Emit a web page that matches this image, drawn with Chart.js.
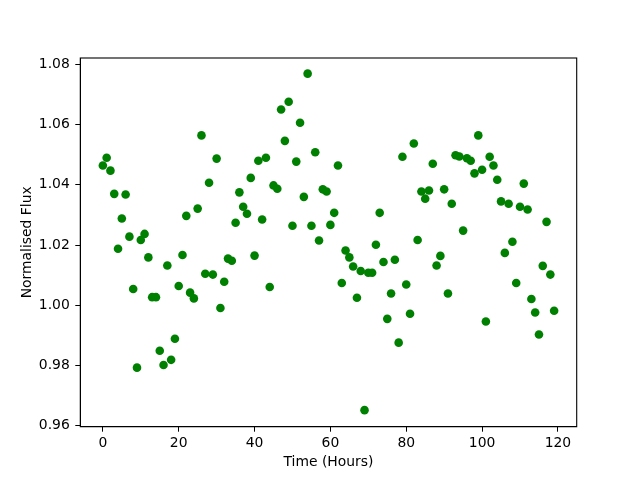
<!DOCTYPE html>
<html>
<head>
<meta charset="utf-8">
<script src="https://cdn.jsdelivr.net/npm/chart.js@4"></script>
<style>
    html, body { margin: 0; padding: 0; background: #fff; }
    canvas { display: block; }
</style>
</head>
<body>
<canvas id="fluxChart" width="640" height="480"></canvas>
<script>
// hours since start of observation
const hours = [];
for (let h = 0; h < 120; h++) hours.push(h);

// normalised flux
const flux = [
    1.0464, 1.0490, 1.0447, 1.0370, 1.0188, 1.0288, 1.0368, 1.0228, 1.0054, 0.9793,
    1.0217, 1.0237, 1.0159, 1.0027, 1.0027, 0.9849, 0.9802, 1.0132, 0.9819, 0.9889,
    1.0064, 1.0167, 1.0297, 1.0042, 1.0023, 1.0321, 1.0564, 1.0105, 1.0407, 1.0102,
    1.0487, 0.9991, 1.0078, 1.0155, 1.0148, 1.0274, 1.0375, 1.0327, 1.0304, 1.0423,
    1.0165, 1.0480, 1.0285, 1.0490, 1.0061, 1.0398, 1.0387, 1.0650, 1.0546, 1.0676,
    1.0264, 1.0477, 1.0606, 1.0360, 1.0769, 1.0264, 1.0508, 1.0215, 1.0385, 1.0378,
    1.0267, 1.0307, 1.0464, 1.0074, 1.0182, 1.0159, 1.0129, 1.0025, 1.0114, 0.9652,
    1.0108, 1.0108, 1.0201, 1.0307, 1.0144, 0.9955, 1.0039, 1.0151, 0.9876, 1.0493,
    1.0069, 0.9972, 1.0537, 1.0217, 1.0378, 1.0354, 1.0381, 1.0470, 1.0132, 1.0164,
    1.0385, 1.0039, 1.0337, 1.0498, 1.0494, 1.0248, 1.0488, 1.0480, 1.0438, 1.0564,
    1.0450, 0.9946, 1.0493, 1.0464, 1.0417, 1.0345, 1.0174, 1.0337, 1.0211, 1.0074,
    1.0327, 1.0404, 1.0318, 1.0021, 0.9976, 0.9903, 1.0131, 1.0277, 1.0102, 0.9982
];

const xTicks = [0, 20, 40, 60, 80, 100, 120];
const yTicks = [0.96, 0.98, 1.00, 1.02, 1.04, 1.06, 1.08];

const points = hours.map((h, i) => ({ x: h, y: flux[i] }));

const font = { family: "'DejaVu Sans', sans-serif", size: 13.9 };

// matplotlib style box round the axes
const framePlugin = {
    id: "frame",
    afterDraw(chart) {
        const a = chart.chartArea;
        const ctx = chart.ctx;
        ctx.save();
        ctx.strokeStyle = "#000";
        ctx.lineWidth = 1.1;
        ctx.strokeRect(a.left, a.top, a.right - a.left, a.bottom - a.top);
        ctx.restore();
    }
};

new Chart(document.getElementById("fluxChart"), {
    type: "scatter",
    data: {
        datasets: [{
            data: points,
            backgroundColor: "#008000",
            borderWidth: 0,
            pointRadius: 4.3,
            pointHoverRadius: 4.3
        }]
    },
    options: {
        responsive: false,
        animation: false,
        layout: { padding: { top: 58, right: 63.3, left: 0, bottom: 0 } },
        plugins: { legend: { display: false }, tooltip: { enabled: false } },
        scales: {
            x: {
                type: "linear",
                min: -5.95,
                max: 124.95,
                afterFit: s => { s.height = 53.3; },
                afterBuildTicks: s => { s.ticks = xTicks.map(v => ({ value: v })); },
                grid: { drawOnChartArea: false, drawTicks: true, tickLength: 5, color: "#000", lineWidth: 1 },
                border: { display: true, color: "#000", width: 1 },
                ticks: { color: "#000", font: font, padding: 3.3, maxRotation: 0 },
                title: { display: true, text: "Time (Hours)", color: "#000", font: font, padding: { top: 0, bottom: 8.9 } }
            },
            y: {
                type: "linear",
                min: 0.9597,
                max: 1.0821,
                afterFit: s => { s.width = 80.3; },
                afterBuildTicks: s => { s.ticks = yTicks.map(v => ({ value: v })); },
                grid: { drawOnChartArea: false, drawTicks: true, tickLength: 5, color: "#000", lineWidth: 1 },
                border: { display: true, color: "#000", width: 1 },
                ticks: { color: "#000", font: font, padding: 5.5, callback: v => v.toFixed(2) },
                title: { display: true, text: "Normalised Flux", color: "#000", font: font, padding: { top: 18.6, bottom: 0 } }
            }
        }
    },
    plugins: [framePlugin]
});
</script>
</body>
</html>
